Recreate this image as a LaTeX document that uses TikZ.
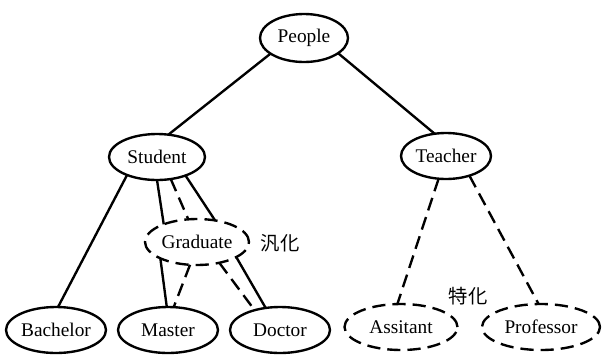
\documentclass[tikz,border=0pt]{standalone}
\usepackage{fontspec}
\setmainfont{Liberation Serif}
\newfontfamily\cjkfont{Noto Sans CJK JP}
\usetikzlibrary{shapes.geometric}
\begin{document}
\begin{tikzpicture}[x=0.02cm,y=-0.02cm,
  ent/.style={ellipse,draw,line width=1.35pt,inner sep=0pt,outer sep=0pt,minimum height=46*0.02cm,font=\fontsize{11}{12}\selectfont},
  dent/.style={ent,dash pattern=on 7.5pt off 4pt},
  conn/.style={line width=1.35pt},
  dconn/.style={line width=1.35pt,dash pattern=on 7.5pt off 4pt},
  lbl/.style={font=\cjkfont\fontsize{11}{12}\selectfont,inner sep=0pt}]
\useasboundingbox (0,0) rectangle (602,359);
\node[ent,minimum width=88*0.02cm,minimum height=48*0.02cm] (people) at (304,38) {People};
\node[ent,minimum width=96*0.02cm] (student) at (157,157) {Student};
\node[ent,minimum width=90*0.02cm] (teacher) at (446,156) {Teacher};
\node[dent,minimum width=104*0.02cm] (graduate) at (197,242) {Graduate};
\node[ent,minimum width=100*0.02cm] (bachelor) at (56,330) {Bachelor};
\node[ent,minimum width=100*0.02cm] (master) at (168,330) {Master};
\node[ent,minimum width=100*0.02cm] (doctor) at (280,330) {Doctor};
\node[dent,minimum width=113*0.02cm] (assitant) at (401,327) {Assitant};
\node[dent,minimum width=118*0.02cm] (professor) at (541,327) {Professor};
\node[lbl] (gen) at (280,243) {汎化};
\node[lbl] (spec) at (468,296) {特化};
% connectors
\draw[conn] (people.205) -- (student.63);
\draw[conn] (people.-24) -- (teacher.117);
\draw[conn] (student.211) -- (bachelor.85);
\draw[conn] (student.-90) -- (graduate.152);
\draw[dconn] (student.-58) -- (graduate.111);
\draw[conn] (student.-33) -- (graduate.50);
\draw[conn] (graduate.204) -- (master.93);
\draw[dconn] (graduate.-107) -- (master.76);
\draw[dconn] (graduate.-43) -- (doctor.142);
\draw[conn] (graduate.-21) -- (doctor.123);
\draw[dconn] (teacher.-108) -- (assitant.99);
\draw[dconn] (teacher.-40) -- (professor.96);
\end{tikzpicture}
\end{document}
